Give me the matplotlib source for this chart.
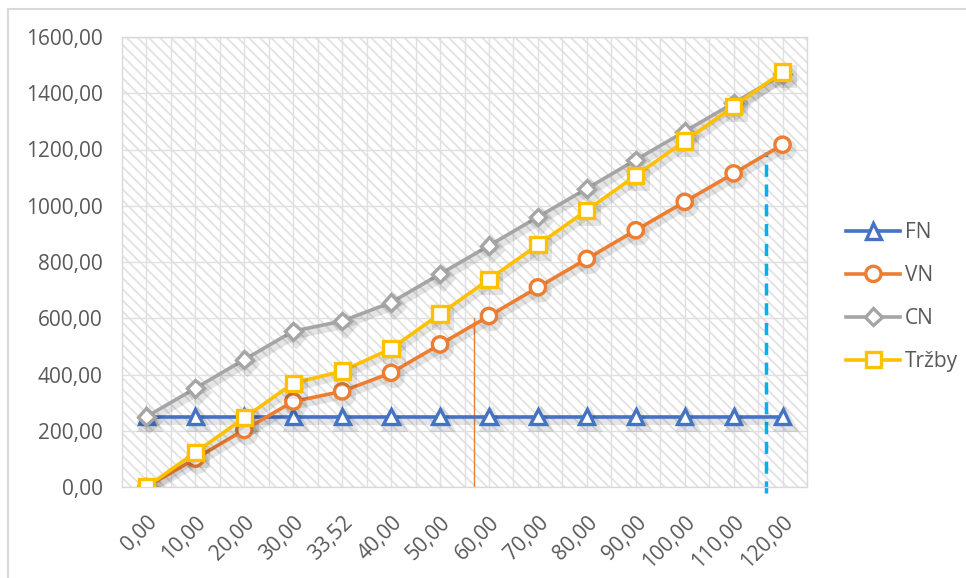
import matplotlib
matplotlib.use("Agg")
import matplotlib.pyplot as plt
import matplotlib.patheffects as pe
from matplotlib.patches import Rectangle
from matplotlib.ticker import FuncFormatter

# objem výroby (kategorie osy x)
objem = ["0,00", "10,00", "20,00", "30,00", "33,52", "40,00", "50,00", "60,00",
         "70,00", "80,00", "90,00", "100,00", "110,00", "120,00"]

fn = [250, 250, 250, 250, 250, 250, 250, 250, 250, 250, 250, 250, 250, 250]
vn = [0, 101, 203, 304, 340, 406, 507, 608, 710, 811, 913, 1014, 1115, 1217]
cn = [250, 351, 453, 554, 590, 656, 757, 858, 960, 1061, 1163, 1264, 1365, 1467]
trzby = [0, 123, 246, 369, 412, 492, 615, 738, 861, 984, 1107, 1230, 1353, 1476]

# pomocne svisle cary (pozice v kategoriich, vyska)
bod_vn = (6.69, 601)
bod_max = (12.67, 1192)

plt.rcParams['font.family'] = ['Open Sans', 'DejaVu Sans']
plt.rcParams['hatch.color'] = '#e2e2e2'
plt.rcParams['hatch.linewidth'] = 1.3

fig = plt.figure(figsize=(9.66, 5.78), dpi=100)
ax = fig.add_axes([122/966, 91/578, 685/966, 450/578])

# ramecek grafu
fig.patches.append(Rectangle((8/966, -0.1), 1.2, (578-9)/578 + 0.1, transform=fig.transFigure,
                             fill=False, edgecolor='#d9d9d9', linewidth=1.5))

ax.patch.set_facecolor('white')
ax.patch.set_hatch('\\\\\\')
ax.patch.set_edgecolor('#e2e2e2')

x = list(range(len(objem)))
shadow = [pe.SimpleLineShadow(offset=(2, -3), shadow_color='#000000', alpha=0.1, linewidth=5),
          pe.Normal()]

ax.plot(x, fn, color='#4472C4', lw=2.6, marker='^', ms=11, mfc='white', mew=2.4,
        label='FN', path_effects=shadow, zorder=3)
ax.plot(x, vn, color='#ED7D31', lw=2.6, marker='o', ms=11, mfc='white', mew=2.4,
        label='VN', path_effects=shadow, zorder=4)
ax.plot(x, cn, color='#A5A5A5', lw=2.6, marker='D', ms=8.5, mfc='white', mew=2.4,
        label='CN', path_effects=shadow, zorder=5)
ax.plot(x, trzby, color='#FFC000', lw=2.6, marker='s', ms=11, mfc='white', mew=2.4,
        label='Tržby', path_effects=shadow, zorder=6)

ax.plot([bod_vn[0], bod_vn[0]], [0, bod_vn[1]], color='#ED7D31', lw=1.0, zorder=2)
ax.plot([bod_max[0], bod_max[0]], [-22, bod_max[1]], color='#00B0F0', lw=2.5,
        dashes=(3.5, 2.2), zorder=2, clip_on=False)

ax.set_xlim(-0.5, len(objem) - 0.5)
ax.set_ylim(0, 1600)
ax.set_yticks(range(0, 1601, 200))
ax.yaxis.set_major_formatter(FuncFormatter(lambda v, p: ("%.2f" % v).replace('.', ',')))
ax.set_xticks(x)
ax.set_xticklabels(objem, rotation=45, ha='right', rotation_mode='anchor')
ax.set_xticks([i + 0.5 for i in x[:-1]], minor=True)

ax.grid(True, which='both', axis='x', color='#e0e0e0', lw=1.0)
ax.grid(True, which='major', axis='y', color='#e0e0e0', lw=1.0)
ax.set_axisbelow(True)
ax.tick_params(axis='both', which='both', length=0, labelsize=15, colors='#595959')
ax.tick_params(axis='y', pad=14)
ax.tick_params(axis='x', pad=18)
for s in ax.spines.values():
    s.set_color('#d9d9d9')
    s.set_linewidth(1.0)

leg = ax.legend(loc='center left', bbox_to_anchor=(1.03, 0.422), frameon=False,
                fontsize=15, handlelength=2.6, handletextpad=0.2, labelspacing=1.05,
                labelcolor='#595959')
for h in leg.legend_handles:
    h.set_path_effects([pe.Normal()])

fig.savefig('out.png', dpi=100)
